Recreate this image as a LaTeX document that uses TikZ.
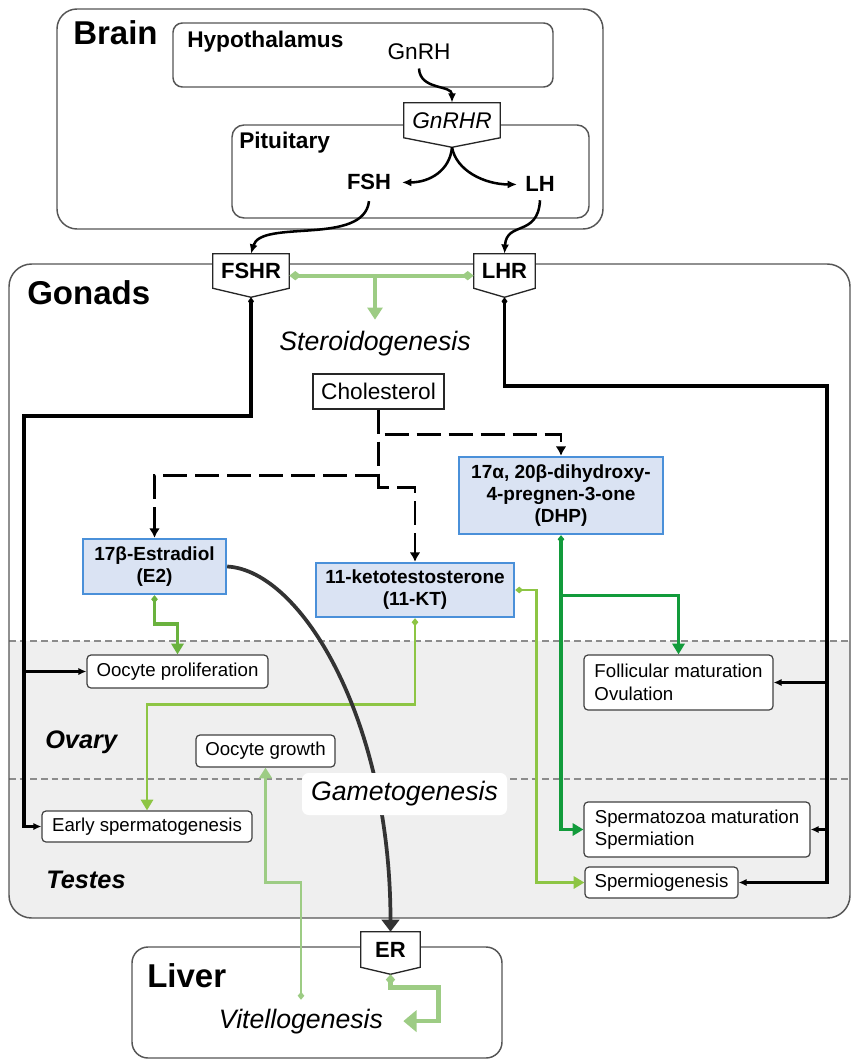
\documentclass[tikz,border=0pt]{standalone}
\usepackage{fontspec}
\setmainfont{Liberation Sans}
\usetikzlibrary{arrows.meta,calc}
\definecolor{palegreen}{HTML}{9DCC84}
\definecolor{egreen}{HTML}{6AB23E}
\definecolor{kgreen}{HTML}{8DC544}
\definecolor{dgreen}{HTML}{129B3B}
\definecolor{bandgray}{HTML}{EFEFEF}
\definecolor{boxblue}{HTML}{4A90D9}
\definecolor{boxfill}{HTML}{DAE3F3}
\definecolor{edgegray}{HTML}{555555}
\definecolor{curvegray}{HTML}{333333}
\tikzset{
  container/.style={draw=edgegray, line width=1.1pt},
  zone/.style={font=\fontsize{24.75}{28}\selectfont\bfseries, inner sep=0, anchor=base west},
  region/.style={font=\fontsize{17}{20}\selectfont\bfseries, inner sep=0, anchor=base west},
  proc/.style={font=\fontsize{20}{24}\selectfont\itshape},
  tissue/.style={font=\fontsize{19}{22}\selectfont\bfseries\itshape, inner sep=0, anchor=base west},
  hormone/.style={font=\fontsize{16.5}{20}\selectfont\bfseries, anchor=base},
  recbox/.style={fill=white, inner sep=0, font=\fontsize{16.5}{20}\selectfont\bfseries},
  recline/.style={draw=black!85, line width=1pt},
  steroidbox/.style={draw=boxblue, fill=boxfill, line width=1.8pt, inner sep=0, align=center, font=\fontsize{14.25}{16.5}\selectfont\bfseries},
  effect/.style={draw=black!75, fill=white, rounded corners=3pt, line width=0.9pt, inner sep=0, align=left, font=\fontsize{14}{17}\selectfont},
  cholbox/.style={draw=black!85, fill=white, line width=1pt, inner sep=0, font=\fontsize{17}{20}\selectfont},
  brainarrow/.style={line width=1.9pt, -{Latex[length=7pt,width=6pt]}},
  blackline/.style={line width=2.4pt, draw=black},
  dashline/.style={line width=2.1pt, dash pattern=on 18pt off 6pt, -{Latex[length=7pt,width=8pt]}},
  sepline/.style={draw=black!45, line width=1.1pt, dash pattern=on 5pt off 3pt},
  smalltip/.style={-{Latex[length=6pt,width=5.5pt]}},
  gtip/.style={-{Triangle[length=8pt,width=9pt]}},
}
\begin{document}
\begin{tikzpicture}[x=0.75pt,y=-0.75pt]
\useasboundingbox (0,0) rectangle (851,1062);

% ---------- Gonads container with grey band ----------
\begin{scope}
  \clip[rounded corners=17pt] (9,264) rectangle (850,918);
  \fill[bandgray] (0,641) rectangle (851,918);
\end{scope}
\draw[sepline] (9,641) -- (851,641);
\draw[sepline] (9,779) -- (851,779);
\draw[container, rounded corners=17pt] (9,264) rectangle (850,918);

% ---------- Brain / Liver containers ----------
\draw[container, rounded corners=15pt] (57,9) rectangle (603,229);
\draw[container, rounded corners=7pt] (173,23) rectangle (553,87);
\draw[container, rounded corners=9pt] (232,125) rectangle (589,218);
\draw[container, rounded corners=12pt] (132,947) rectangle (502,1058);

% ---------- labels ----------
\node[zone] (lbrain) at (73,45) {Brain};
\node[zone] (lgonads) at (27,305) {Gonads};
\node[zone] (lliver) at (147,987) {Liver};
\node[region] (lhypo) at (187,48) {Hypothalamus};
\node[region] (lpit) at (239,149) {Pituitary};
\node[tissue] (lovary) at (45,748) {Ovary};
\node[tissue] (ltestes) at (46,888) {Testes};

% ---------- hormones in the brain ----------
\node[anchor=base, inner sep=6pt, font=\fontsize{17}{20}\selectfont] (gnrh) at (419,60) {GnRH};
\node[hormone, inner sep=8pt] (fsh) at (369,190) {FSH};
\node[hormone, inner sep=6pt] (lh) at (540,192) {LH};

% ---------- receptors ----------
\node[recbox, minimum width=72pt, minimum height=25.9pt, font=\fontsize{17}{20}\selectfont\itshape] (gnrhr) at (452,120.25) {GnRHR};
\draw[recline] (gnrhr.north west) -- (gnrhr.north east) -- (gnrhr.south east) -- ($(gnrhr.south)+(0,9.5)$) coordinate (gnrhr-tip) -- (gnrhr.south west) -- cycle;

\node[recbox, minimum width=57pt, minimum height=25.5pt] (fshr) at (251,271) {FSHR};
\draw[recline] (fshr.north west) -- (fshr.north east) -- (fshr.south east) -- ($(fshr.south)+(0,9)$) coordinate (fshr-tip) -- (fshr.south west) -- cycle;

\node[recbox, minimum width=45.75pt, minimum height=25.5pt] (lhr) at (504.5,271) {LHR};
\draw[recline] (lhr.north west) -- (lhr.north east) -- (lhr.south east) -- ($(lhr.south)+(0,9)$) coordinate (lhr-tip) -- (lhr.south west) -- cycle;

\node[recbox, minimum width=44.25pt, minimum height=26.25pt] (er) at (390.5,949.5) {ER};
\draw[recline] (er.north west) -- (er.north east) -- (er.south east) -- ($(er.south)+(0,7)$) coordinate (er-tip) -- (er.south west) -- cycle;

% ---------- process labels ----------
\node[proc, anchor=base, inner sep=8pt] (steroid) at (375,350) {Steroidogenesis};
\node[proc, anchor=base, inner xsep=15pt, inner ysep=6.5pt] (vit) at (301,1028) {Vitellogenesis};

% ---------- steroid boxes ----------
\node[cholbox, minimum width=98.25pt, minimum height=26.25pt] (chol) at (378.5,391.5) {Cholesterol};
\node[steroidbox, minimum width=153pt, minimum height=57.75pt] (dhp) at (561,495.5) {17α, 20β-dihydroxy-\\4-pregnen-3-one\\(DHP)};
\node[steroidbox, minimum width=107.25pt, minimum height=41.25pt] (e2) at (154.5,566.5) {17β-Estradiol\\(E2)};
\node[steroidbox, minimum width=148.5pt, minimum height=40.5pt] (kt) at (415,590) {11-ketotestosterone\\(11-KT)};

% ---------- effect boxes ----------
\node[effect, minimum width=135.75pt, minimum height=24.75pt] (opro) at (177.5,671.5) {Oocyte proliferation};
\node[effect, minimum width=157.5pt, minimum height=23.25pt] (espm) at (147,826.5) {Early spermatogenesis};
\node[effect, minimum width=104.25pt, minimum height=24pt] (ogr) at (265.5,751) {Oocyte growth};
\node[effect, minimum width=141.75pt, minimum height=41.25pt] (foll) at (678.5,682.5) {Follicular maturation\\Ovulation};
\node[effect, minimum width=169.5pt, minimum height=41.25pt] (smz) at (697,829.5) {Spermatozoa maturation\\Spermiation};
\node[effect, minimum width=114.75pt, minimum height=23.25pt] (smg) at (661.5,882.5) {Spermiogenesis};

% ---------- brain connectors ----------
\draw[brainarrow] (gnrh.south) .. controls +(1,22) and +(0,-18) .. (gnrhr.north);
\draw[brainarrow] (gnrhr-tip) .. controls +(-2,23) and +(28,0) .. (fsh.east);
\draw[brainarrow] (gnrhr-tip) .. controls +(4,23) and +(-33,0) .. (lh.west);
\draw[brainarrow] (fsh.south) .. controls +(-5,45) and +(10,-35) .. (fshr.north);
\draw[brainarrow] (lh.south) .. controls +(-2,37) and +(2,-33) .. (lhr.north);

% ---------- receptor signalling ----------
\coordinate (gline) at ([yshift=-3.5pt]fshr.east);
\draw[palegreen, line width=3.2pt, {Diamond[length=9pt,width=7pt]}-{Diamond[length=9pt,width=7pt]}] (gline) -- ([yshift=-3.5pt]lhr.west);
\draw[palegreen, line width=3.2pt, -{Triangle[length=9pt,width=11pt]}] (steroid.north |- gline) -- (steroid.north);

\draw[blackline, {Diamond[length=6pt,width=4.5pt]}-{Latex[length=6pt,width=5.5pt]}] (fshr-tip) |- (24,416) coordinate (fbend) |- (espm.west);
\draw[blackline, smalltip] (fbend |- opro.west) -- (opro.west);

\draw[blackline, {Diamond[length=6pt,width=4.5pt]}-{Latex[length=6pt,width=5.5pt]}] (lhr-tip) |- (827,386) coordinate (lbend) |- (smg.east);
\draw[blackline, smalltip] (lbend |- foll.east) -- (foll.east);
\draw[blackline, smalltip] (lbend |- smz.east) -- (smz.east);

% ---------- steroidogenesis (dashed) ----------
\draw[dashline] (chol.south) -- ++(0,24.5) coordinate (d1) -- ++(0,41) coordinate (d2) -- ++(0,12) -| (kt.north);
\draw[dashline] (d1) ++(6,0) -| (dhp.north);
\draw[dashline] (d2) -| (e2.north);

% ---------- steroid actions ----------
\draw[egreen, line width=2.6pt, {Diamond[length=6pt,width=5pt]}-{Triangle[length=8pt,width=9pt]}] (e2.south) -- ++(0,29) -| (opro.north);
\draw[kgreen, line width=2.2pt, {Diamond[length=6pt,width=5pt]}-{Triangle[length=8pt,width=9pt]}] (kt.south) -- ++(0,86) -| (espm.north);
\draw[kgreen, line width=2.2pt, {Diamond[length=6pt,width=5pt]}-{Triangle[length=8pt,width=9pt]}] (kt.east) -- ++(21,0) |- (smg.west);
\draw[dgreen, line width=2.5pt, {Diamond[length=6pt,width=5pt]}-{Triangle[length=8pt,width=9pt]}] (dhp.south) |- (smz.west);
\draw[dgreen, line width=2.5pt, -{Triangle[length=8pt,width=9pt]}] (dhp.south) ++(0,60) -| (foll.north);

% ---------- E2 to liver ----------
\draw[curvegray, line width=2.8pt, -{Triangle[length=9pt,width=13pt]}] (e2.east) .. controls +(74,4) and +(0,-212) .. (er.north);
\node[fill=white, rounded corners=5pt, inner sep=0, minimum width=153.75pt, minimum height=31.5pt, proc] (gam) at (404.5,794) {Gametogenesis};

\draw[palegreen, line width=3.4pt, {Diamond[length=8pt,width=7pt]}-{Triangle[length=10pt,width=16pt]}] (er-tip) -- ++(0,13) -| ($(vit.east)+(35,0)$) -- (vit.east);
\draw[palegreen, line width=2.2pt, {Diamond[length=6pt,width=5pt]}-{Triangle[length=8pt,width=9.5pt]}] (vit.north) -- ++(0,-117) -| (ogr.south);

\end{tikzpicture}
\end{document}
